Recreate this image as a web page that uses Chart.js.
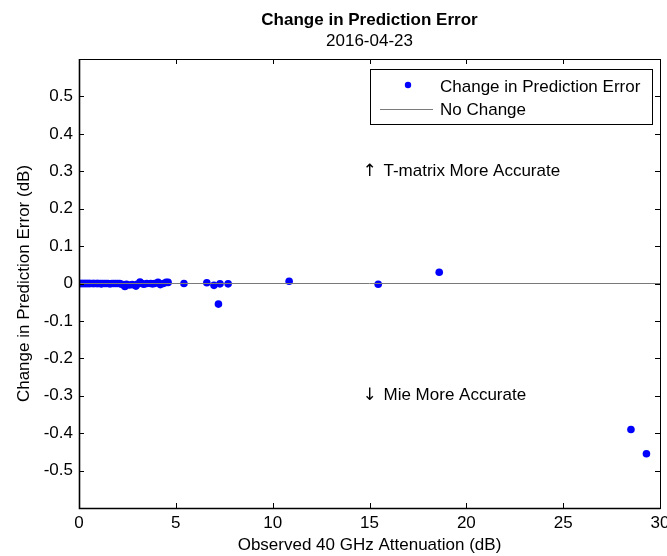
<!DOCTYPE html>
<html>
<head>
<meta charset="utf-8">
<title>Change in Prediction Error</title>
<script src="https://cdn.jsdelivr.net/npm/chart.js@4.4.1/dist/chart.umd.min.js"></script>
<style>
	html, body { margin: 0; padding: 0; background: #fff; }
	#wrap { width: 667px; height: 556px; }
</style>
</head>
<body>
<div id="wrap"><canvas id="chart" width="667" height="556"></canvas></div>
<script>
// observed 40 GHz attenuation (dB)
const attenuation = [
	0.05, 0.1, 0.15, 0.2, 0.25, 0.3, 0.35, 0.4, 0.45, 0.5, 0.55, 0.6, 0.7, 0.75, 0.8, 0.9, 0.95,
	1.0, 1.1, 1.15, 1.2, 1.3, 1.4, 1.5, 1.6, 1.7, 1.8, 1.9, 2.0, 2.1, 2.2, 2.37, 2.45, 2.6, 2.75,
	2.94, 3.0, 3.15, 3.25, 3.35, 3.5, 3.7, 3.8, 3.9, 4.08, 4.2, 4.35, 4.5, 4.6,
	5.42, 6.6, 6.97, 7.2, 7.28, 7.7, 10.85, 15.45, 18.6, 28.5, 29.3
];
// change in prediction error (dB)
const errorChange = [
	0, 0, 0, 0, 0, 0, 0, 0, 0, 0, 0, 0, 0, 0, 0, 0, 0,
	0, 0, -0.001, 0, 0, 0, 0, -0.001, 0, 0, 0, 0, 0, -0.002, -0.008, -0.002, -0.004, -0.003,
	-0.007, -0.002, 0.004, 0, -0.002, 0, 0, -0.001, 0, 0.003, -0.003, 0, 0.003, 0.003,
	0, 0.002, -0.005, -0.055, -0.001, -0.001, 0.006, -0.002, 0.03, -0.39, -0.455
];
const noChangeX = [0, 30];
const noChangeY = [0, 0];

const xTicks = [0, 5, 10, 15, 20, 25, 30];
const yTicks = [-0.6, -0.5, -0.4, -0.3, -0.2, -0.1, 0, 0.1, 0.2, 0.3, 0.4, 0.5, 0.6];

const FONT = "'Liberation Sans', Arial, sans-serif";

// matlab style box, inward ticks, titles, legend and the two notes
const matlabAxes = {
	id: 'matlabAxes',
	afterDraw(chart) {
		const ctx = chart.ctx;
		const a = chart.chartArea;
		const xs = chart.scales.x;
		const ys = chart.scales.y;
		ctx.save();

		ctx.strokeStyle = '#000';
		ctx.lineWidth = 1;
		ctx.beginPath();
		xTicks.forEach(v => {
			const px = Math.round(xs.getPixelForValue(v)) + 0.5;
			ctx.moveTo(px, a.bottom); ctx.lineTo(px, a.bottom - 5);
			ctx.moveTo(px, a.top); ctx.lineTo(px, a.top + 5);
		});
		yTicks.forEach(v => {
			const py = Math.round(ys.getPixelForValue(v)) + 0.5;
			ctx.moveTo(a.left, py); ctx.lineTo(a.left + 5, py);
			ctx.moveTo(a.right, py); ctx.lineTo(a.right - 5, py);
		});
		ctx.stroke();

		ctx.strokeRect(a.left + 0.5, a.top + 0.5, a.right - a.left, a.bottom - a.top);
		ctx.lineWidth = 1.6;
		ctx.beginPath();
		ctx.moveTo(a.left + 0.5, a.top);
		ctx.lineTo(a.left + 0.5, a.bottom + 0.5);
		ctx.lineTo(a.right + 0.5, a.bottom + 0.5);
		ctx.stroke();

		const cx = (a.left + a.right) / 2;
		ctx.fillStyle = '#000';
		ctx.textAlign = 'center';
		ctx.textBaseline = 'middle';
		ctx.font = 'bold 17px ' + FONT;
		ctx.fillText('Change in Prediction Error', cx, 20);
		ctx.font = '17px ' + FONT;
		ctx.fillText('2016-04-23', cx, 41);

		ctx.fillText('Observed 40 GHz Attenuation (dB)', cx, 545);
		ctx.save();
		ctx.translate(24, (a.top + a.bottom) / 2);
		ctx.rotate(-Math.PI / 2);
		ctx.fillText('Change in Prediction Error (dB)', 0, 0);
		ctx.restore();

		// notes, arrow centred on x = 15
		const nx = xs.getPixelForValue(15);
		const upY = ys.getPixelForValue(0.3);
		const downY = ys.getPixelForValue(-0.3);
		ctx.font = "17px 'DejaVu Sans', sans-serif";
		ctx.fillText('\u2191', nx, upY);
		ctx.fillText('\u2193', nx, downY);
		ctx.textAlign = 'left';
		ctx.font = '17px ' + FONT;
		ctx.fillText('T-matrix More Accurate', nx + 14, upY);
		ctx.fillText('Mie More Accurate', nx + 14, downY);

		// legend
		const ds = chart.data.datasets;
		ctx.fillStyle = '#fff';
		ctx.fillRect(370, 69, 282, 55);
		ctx.strokeStyle = '#000';
		ctx.lineWidth = 1;
		ctx.strokeRect(370.5, 69.5, 282, 55);
		ctx.fillStyle = ds[0].backgroundColor;
		ctx.beginPath();
		ctx.arc(408, 85, 3.2, 0, Math.PI * 2);
		ctx.fill();
		ctx.strokeStyle = ds[1].borderColor;
		ctx.beginPath();
		ctx.moveTo(380, 109.5); ctx.lineTo(433, 109.5);
		ctx.stroke();
		ctx.fillStyle = '#000';
		ctx.fillText(ds[0].label, 440, 87);
		ctx.fillText(ds[1].label, 440, 110);

		ctx.restore();
	}
};

new Chart(document.getElementById('chart'), {
	type: 'scatter',
	data: {
		datasets: [
			{
				label: 'Change in Prediction Error',
				data: attenuation.map((v, i) => ({x: v, y: errorChange[i]})),
				backgroundColor: '#0000ff',
				borderWidth: 0,
				pointRadius: 3.8,
				order: 1
			},
			{
				type: 'line',
				label: 'No Change',
				data: noChangeX.map((v, i) => ({x: v, y: noChangeY[i]})),
				borderColor: '#7a7a7a',
				borderWidth: 1,
				pointRadius: 0,
				order: 0
			}
		]
	},
	options: {
		responsive: false,
		animation: false,
		layout: {padding: {top: 59, right: 7, left: 0, bottom: 0}},
		plugins: {legend: {display: false}, tooltip: {enabled: false}},
		scales: {
			x: {
				type: 'linear',
				min: 0, max: 30,
				afterFit: s => { s.height = 48; s.paddingLeft = 0; s.paddingRight = 0; },
				afterBuildTicks: s => { s.ticks = xTicks.map(v => ({value: v})); },
				grid: {display: false, drawTicks: false},
				border: {display: false},
				ticks: {
					padding: 5,
					color: '#000',
					font: {family: FONT, size: 17},
					maxRotation: 0
				}
			},
			y: {
				type: 'linear',
				min: -0.6, max: 0.6,
				afterFit: s => { s.width = 79; s.paddingTop = 0; s.paddingBottom = 0; },
				afterBuildTicks: s => { s.ticks = yTicks.map(v => ({value: v})); },
				grid: {display: false, drawTicks: false},
				border: {display: false},
				ticks: {
					padding: 6,
					color: '#000',
					font: {family: FONT, size: 17},
					callback: v => Math.abs(v) > 0.55 ? '' : String(Math.round(v * 10) / 10)
				}
			}
		}
	},
	plugins: [matlabAxes]
});
</script>
</body>
</html>
